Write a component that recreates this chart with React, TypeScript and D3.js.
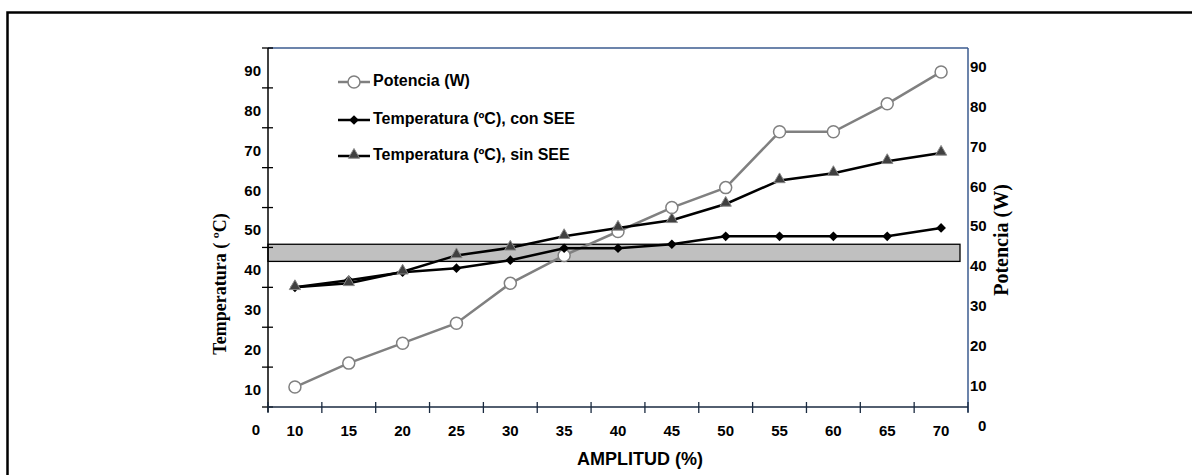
import React from "react";
import * as d3 from "d3";

const amplitudes = [10, 15, 20, 25, 30, 35, 40, 45, 50, 55, 60, 65, 70];
const potencia = [10, 16, 21, 26, 36, 43, 49, 55, 60, 74, 74, 81, 89];
const tempConSEE = [35, 36.8, 38.8, 39.8, 41.8, 44.8, 44.8, 45.8, 47.8, 47.8, 47.8, 47.8, 49.9];
const tempSinSEE = [35, 36, 38.9, 43, 44.9, 47.8, 49.9, 51.8, 55.9, 61.8, 63.6, 66.6, 68.7];
const valueLabels = [0, 10, 20, 30, 40, 50, 60, 70, 80, 90];
const tickValues = [5, 15, 25, 35, 45, 55, 65, 75, 85, 95];
const band = [41.5, 45.8];

const W = 1192;
const H = 475;
const plot = { left: 268, right: 968, top: 48, bottom: 407 };
const sans = "'Liberation Sans', Arial, sans-serif";
const serif = "'Liberation Serif', 'Times New Roman', serif";

export default function App() {
  const x = d3.scaleBand<number>().domain(amplitudes).range([plot.left, plot.right]);
  const cx = (a: number) => (x(a) ?? 0) + x.bandwidth() / 2;
  const y = d3.scaleLinear().domain([5, 95]).range([plot.bottom, plot.top]);

  const line = (vals: number[]) =>
    d3.line<number>().x((_, i) => cx(amplitudes[i])).y((v) => y(v))(vals) ?? "";

  const xTicks = [...amplitudes.map((a) => x(a) ?? 0), plot.right];
  const diamond = d3.symbol().type(d3.symbolDiamond2).size(60)() ?? "";
  const triangle = d3.symbol().type(d3.symbolTriangle).size(55)() ?? "";

  const legend = [
    { label: "Potencia (W)", kind: "circle" },
    { label: "Temperatura (ºC), con SEE", kind: "diamond" },
    { label: "Temperatura (ºC), sin SEE", kind: "triangle" },
  ];
  const legendY = [82, 120, 156];

  const marker = (kind: string, px: number, py: number, key?: string | number) => {
    if (kind === "circle")
      return <circle key={key} cx={px} cy={py} r={6} fill="#fff" stroke="#808080" strokeWidth={1.5} />;
    if (kind === "diamond")
      return <path key={key} d={diamond} transform={`translate(${px},${py})`} fill="#000" />;
    return (
      <path key={key} d={triangle} transform={`translate(${px},${py - 1})`} fill="#404040" stroke="#8a8a8a" strokeWidth={1} />
    );
  };

  return (
    <svg width={W} height={H} style={{ position: "absolute", left: 0, top: 0, background: "#fff" }}>
      {/* outer frame */}
      <path d={`M7.5,${H} V12.5 H${W}`} fill="none" stroke="#000" strokeWidth={2.5} />

      {/* shaded band */}
      <rect
        x={plot.left}
        y={y(band[1])}
        width={plot.right - plot.left - 8}
        height={y(band[0]) - y(band[1])}
        fill="#c0c0c0"
        stroke="#000"
        strokeWidth={1.3}
      />

      {/* plot frame top/right */}
      <line x1={plot.left} x2={plot.right} y1={plot.top} y2={plot.top} stroke="#3b5b8f" strokeWidth={1.5} />
      <line x1={plot.right} x2={plot.right} y1={plot.top} y2={plot.bottom + 5} stroke="#3b5b8f" strokeWidth={1.5} />

      {/* left axis */}
      <line x1={plot.left} x2={plot.left} y1={plot.top} y2={plot.bottom + 5} stroke="#000" strokeWidth={1.5} />
      {tickValues.map((t) => (
        <line key={t} x1={plot.left - 6} x2={plot.left + 5} y1={y(t)} y2={y(t)} stroke="#000" strokeWidth={1.3} />
      ))}
      {valueLabels.map((v) => (
        <text
          key={"l" + v}
          x={v === 0 ? 260 : 261}
          y={y(v) + 4}
          textAnchor="end"
          dominantBaseline="middle"
          fontFamily={sans}
          fontWeight="bold"
          fontSize={15}
        >
          {v}
        </text>
      ))}

      {/* right axis labels */}
      {valueLabels.map((v) => (
        <text
          key={"r" + v}
          x={v === 0 ? 978 : 970}
          y={y(v)}
          dominantBaseline="middle"
          fontFamily={sans}
          fontWeight="bold"
          fontSize={15}
        >
          {v}
        </text>
      ))}

      {/* bottom axis */}
      <line x1={plot.left} x2={plot.right} y1={plot.bottom} y2={plot.bottom} stroke="#1a2a40" strokeWidth={1.5} />
      {xTicks.map((t, i) => (
        <line key={i} x1={t} x2={t} y1={plot.bottom - 5} y2={plot.bottom + 6} stroke="#1a2a40" strokeWidth={1.3} />
      ))}
      {amplitudes.map((a) => (
        <text
          key={a}
          x={cx(a)}
          y={432}
          textAnchor="middle"
          dominantBaseline="middle"
          fontFamily={sans}
          fontWeight="bold"
          fontSize={15}
        >
          {a}
        </text>
      ))}

      {/* axis titles */}
      <text x={640} y={460} textAnchor="middle" dominantBaseline="middle" fontFamily={sans} fontWeight="bold" fontSize={18}>
        AMPLITUD (%)
      </text>
      <text
        transform="translate(222,284) rotate(-90)"
        textAnchor="middle"
        dominantBaseline="middle"
        fontFamily={serif}
        fontWeight="bold"
        fontSize={18}
      >
        Temperatura ( ºC)
      </text>
      <text
        transform="translate(1003,240) rotate(-90)"
        textAnchor="middle"
        dominantBaseline="middle"
        fontFamily={serif}
        fontWeight="bold"
        fontSize={20}
      >
        Potencia (W)
      </text>

      {/* series */}
      <path d={line(potencia)} fill="none" stroke="#808080" strokeWidth={2.5} />
      {potencia.map((v, i) => marker("circle", cx(amplitudes[i]), y(v), "p" + i))}
      <path d={line(tempConSEE)} fill="none" stroke="#000" strokeWidth={2.5} />
      {tempConSEE.map((v, i) => marker("diamond", cx(amplitudes[i]), y(v), "c" + i))}
      <path d={line(tempSinSEE)} fill="none" stroke="#000" strokeWidth={2.5} />
      {tempSinSEE.map((v, i) => marker("triangle", cx(amplitudes[i]), y(v), "s" + i))}

      {/* legend */}
      {legend.map((l, i) => (
        <g key={l.label}>
          <line
            x1={338}
            x2={370}
            y1={legendY[i]}
            y2={legendY[i]}
            stroke={l.kind === "circle" ? "#808080" : "#000"}
            strokeWidth={2.5}
          />
          {marker(l.kind, 354, legendY[i])}
          <text x={373} y={legendY[i]} dominantBaseline="middle" fontFamily={sans} fontWeight="bold" fontSize={16}>
            {l.label}
          </text>
        </g>
      ))}
    </svg>
  );
}
